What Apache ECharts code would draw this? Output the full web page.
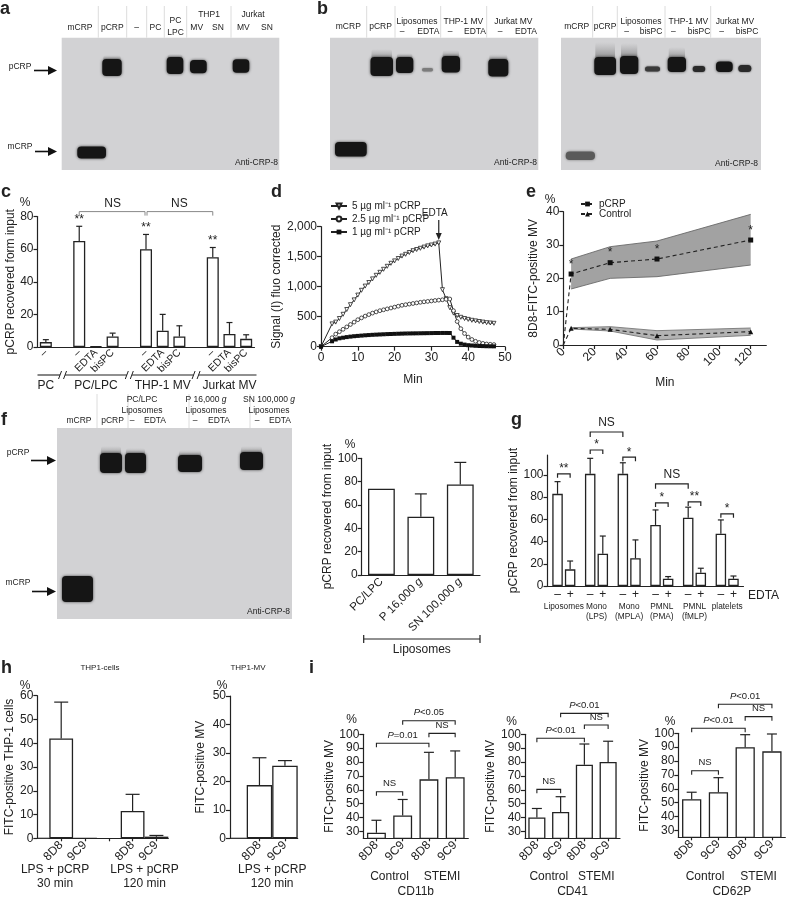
<!DOCTYPE html>
<html><head><meta charset="utf-8">
<script src="https://cdn.jsdelivr.net/npm/echarts@6.0.0/dist/echarts.min.js"></script>
<style>html,body{margin:0;padding:0;background:#fff;}#main{width:788px;height:900px;}</style>
</head><body><div id="main"></div>
<script>
// ================= DATA =================
// Panel c
const cCategories = ['–','','–','EDTA','bisPC','','–','EDTA','bisPC','','–','EDTA','bisPC'];
const cValues = [3,null,65,0.4,6.5,null,60,10,6.5,null,55,8,5];
const cErrors = [4.5,null,74,null,8.5,null,69,20,13,null,61,15,7.5];
const cStars = ['','','**','','','','**','','','','**','',''];
const cGroups = ['PC','PC/LPC','THP-1 MV','Jurkat MV'];
// Panel d
const dMinutes = [0,3,4,5,6,7,8,9,10,11,12,13,14,15,16,17,18,19,20,21,22,23,24,25,26,27,28,29,30,31,32,33,34,35,36,37,38,39,40,41,42,43,44,45,46,47];
const dPcrp5 = [0,380,410,470,540,620,700,780,860,940,1010,1070,1130,1190,1240,1290,1340,1390,1430,1470,1510,1540,1570,1600,1620,1640,1660,1680,1695,1710,1730,950,800,650,560,520,490,470,455,440,430,420,410,400,395,390];
const dPcrp25 = [0,150,210,250,290,330,370,410,450,480,510,535,560,580,600,615,630,645,660,675,690,700,710,720,730,740,748,755,762,770,776,782,790,795,600,420,300,220,160,120,90,70,55,45,40,35];
const dPcrp1 = [0,90,120,140,150,160,168,175,180,185,190,194,198,201,204,207,210,212,214,216,218,220,221,222,223,224,225,226,227,228,228,229,229,228,150,80,50,35,25,20,15,12,10,8,7,6];
const dNames = ['5 µg ml⁻¹ pCRP','2.5 µg ml⁻¹ pCRP','1 µg ml⁻¹ pCRP'];
// Panel e
const eMinutes = [0,5,30,60,120];
const ePcrp = [0,21.3,24.7,25.8,31.5];
const eControl = [0,5,4.7,2.8,4];
const ePcrpStars = ['','*','*','*','*'];
const eBandMinutes = [5,30,60,120];
const ePcrpLow = [16.8,20,20.5,24];
const ePcrpHigh = [25.8,29.5,31.2,39.2];
const eCtrlLow = [4.8,4.2,1.5,2.9];
const eCtrlHigh = [5.2,5.5,4.3,5.1];
const eXTicks = [0,20,40,60,80,100,120];
// Panel f
const fCategories = ['PC/LPC','P 16,000 g','SN 100,000 g'];
const fValues = [74,50,77.5];
const fErrors = [null,69.5,96.5];
// Panel g
const gCategories = ['Liposomes','Mono\n(LPS)','Mono\n(MPLA)','PMNL\n(PMA)','PMNL\n(fMLP)','platelets'];
const gMinus = [83,101,101,55,61.5,47];
const gMinusErr = [94,115,111,68.5,71,59.5];
const gPlus = [15,29,25,6.5,12,6.5];
const gPlusErr = [22.5,45,41.5,8.5,16,9];
const gYTicks = [0,20,40,60,80,100];
// Panel h
const h1Categories = ['8D8','9C9','','8D8','9C9'];
const h1Values = [42,0,null,11.5,0.7];
const h1Errors = [57.3,null,null,18.5,1.2];
const h2Categories = ['8D8','9C9'];
const h2Values = [18.7,25.5];
const h2Errors = [28.3,27.3];
// Panel i
const iCategories = ['8D8','9C9','8D8','9C9'];
const iCD11b = [29,41.5,67.5,69];
const iCD11bErr = [38,53,87,88];
const iCD41 = [40,44,78,80];
const iCD41Err = [46.5,55,93,95];
const iCD62P = [52.5,57.5,90,87];
const iCD62PErr = [57.5,68,99,99.5];
const iYTicks = [30,40,50,60,70,80,90,100];

// ================= HELPERS =================
const F = 'Liberation Sans, Arial, Helvetica, sans-serif';
const INK = '#222';
function merge(a, b){ if(!b) return a; for (const k in b){ const v=b[k]; if (v && typeof v==='object' && !Array.isArray(v) && a[k] && typeof a[k]==='object' && !Array.isArray(a[k])) merge(a[k], v); else a[k]=v; } return a; }
function axLine(){ return {show:true, lineStyle:{color:INK, width:1.2}}; }
function yAx(g, o){
  return merge({type:'value', gridIndex:g, axisLine:axLine(), axisTick:{show:true, length:4, lineStyle:{color:INK, width:1.2}},
    axisLabel:{color:INK, fontSize:12, fontFamily:F, margin:4}, splitLine:{show:false},
    nameLocation:'middle', nameRotate:90, nameTextStyle:{color:INK, fontSize:12, fontFamily:F}}, o);
}
function xCat(g, data, o){
  return merge({type:'category', gridIndex:g, data, axisLine:axLine(), axisTick:{show:true, alignWithLabel:true, length:3, lineStyle:{color:INK, width:1.2}},
    axisLabel:{color:INK, fontSize:12, fontFamily:F, interval:0, rotate:45, margin:5}, splitLine:{show:false}}, o);
}
function barS(g, vals, o){
  return merge({type:'bar', xAxisIndex:g, yAxisIndex:g, data:vals, barWidth:'72%', silent:true,
    itemStyle:{color:'#fff', borderColor:INK, borderWidth:1.3}}, o);
}
function errS(g, vals, errs, opt){
  opt = opt || {};
  const data = [];
  vals.forEach((v,i)=>{ if (v==null) return; const e = errs ? errs[i] : null; const s = opt.stars ? opt.stars[i] : '';
    if (e==null && !s) return; data.push([i, v, e==null ? v : e, s]); });
  return {type:'custom', xAxisIndex:g, yAxisIndex:g, data:data.map(d=>[d[0],d[1],d[2]]), z:5, silent:true,
    encode:{x:0, y:[1,2]},
    renderItem:(params, api)=>{
      const i=api.value(0), v=api.value(1), e=api.value(2); const s=data[params.dataIndex][3];
      const p1=api.coord([i,v]), p2=api.coord([i,e]); const cx=p1[0]+(opt.offset||0); const cw=opt.cap||6;
      const ch=[];
      if (e>v){ ch.push({type:'line', shape:{x1:cx,y1:p1[1],x2:cx,y2:p2[1]}, style:{stroke:INK,lineWidth:1.2}});
        ch.push({type:'line', shape:{x1:cx-cw/2,y1:p2[1],x2:cx+cw/2,y2:p2[1]}, style:{stroke:INK,lineWidth:1.2}}); }
      if (s) ch.push({type:'text', x:cx, y:p2[1]-1, style:{text:s, fill:INK, fontSize:12, fontFamily:F, align:'center', verticalAlign:'bottom', textAlign:'center', textVerticalAlign:'bottom'}});
      return {type:'group', children:ch};
    }};
}
// shaded confidence band between two series, drawn as one polygon through the axes
function bandS(g, xs, lo, hi, fill, stroke){
  return {type:'custom', xAxisIndex:g, yAxisIndex:g, silent:true, z:1,
    data:xs.map((x,i)=>[x, lo[i], hi[i]]), encode:{x:0, y:[1,2]},
    renderItem:(params, api)=>{
      if (params.dataIndex!==0) return null;
      const up = xs.map((x,i)=>api.coord([x,hi[i]]));
      const dn = xs.map((x,i)=>api.coord([x,lo[i]]));
      return {type:'group', children:[
        {type:'polygon', shape:{points:up.concat(dn.slice().reverse())}, style:{fill, stroke:null}},
        {type:'polyline', shape:{points:up}, style:{stroke, fill:null, lineWidth:0.9}},
        {type:'polyline', shape:{points:dn}, style:{stroke, fill:null, lineWidth:0.9}}
      ]};
    }};
}
const zip = (xs, ys) => xs.map((x,i)=>[x, ys[i]]);

// ================= CHART =================
const chart = echarts.init(document.getElementById('main'), null, {renderer:'canvas', width:788, height:900});
const grids = [
  {left:37.5, top:216.5, width:217, height:130.5},   // 0 c
  {left:321, top:226.7, width:184, height:120},      // 1 d
  {left:563.3, top:211.7, width:203, height:133.3},  // 2 e
  {left:361.7, top:458.3, width:118.3, height:116.7},// 3 f
  {left:547.5, top:455, width:196, height:131},      // 4 g
  {left:49.3, top:695.7, width:119, height:142.6},   // 5 h1
  {left:246.7, top:696, width:51, height:142.3},     // 6 h2
  {left:363.3, top:734.3, width:105, height:104},    // 7 i CD11b
  {left:525, top:734.3, width:95, height:104},       // 8 i CD41
  {left:678.3, top:733.3, width:107, height:104}     // 9 i CD62P
];
const thou = v => v>=1000 ? Math.floor(v/1000)+','+String(v%1000).padStart(3,'0') : String(v);

const option = {
  animation:false,
  textStyle:{fontFamily:F},
  grid: grids.map(g=>Object.assign({containLabel:false}, g)),
  legend:[
    {left:325, top:196, orient:'vertical', itemWidth:16, itemHeight:6, itemGap:3, selectedMode:false,
     textStyle:{fontSize:10, fontFamily:F, color:INK}, data:dNames},
    {left:575, top:194, orient:'vertical', itemWidth:13, itemHeight:6, itemGap:0, selectedMode:false,
     textStyle:{fontSize:10, fontFamily:F, color:INK}, data:['pCRP','Control']}
  ],
  xAxis:[
    xCat(0, cCategories, {axisTick:{show:false}, axisLabel:{fontSize:10.5, margin:4}}),
    {type:'value', gridIndex:1, min:0, max:50, interval:10, axisLine:axLine(), axisTick:{length:4, lineStyle:{color:INK,width:1.2}},
     axisLabel:{color:INK, fontSize:12, fontFamily:F, margin:5}, splitLine:{show:false},
     name:'Min', nameLocation:'middle', nameGap:27, nameTextStyle:{color:INK, fontSize:12, fontFamily:F}},
    {type:'value', gridIndex:2, min:0, max:130, axisLine:axLine(), axisTick:{length:4, customValues:eXTicks, lineStyle:{color:INK,width:1.2}},
     axisLabel:{color:INK, fontSize:12, fontFamily:F, margin:5, rotate:45, customValues:eXTicks}, splitLine:{show:false},
     name:'Min', nameLocation:'middle', nameGap:32, nameTextStyle:{color:INK, fontSize:12, fontFamily:F}},
    xCat(3, fCategories, {axisTick:{show:false}, axisLabel:{fontSize:11.5,
      formatter:v=>v.replace(/ g$/, ' {i|g}'), rich:{i:{fontStyle:'italic', fontSize:11.5, fontFamily:F, color:INK}}}}),
    xCat(4, gCategories, {axisTick:{show:false}, axisLabel:{rotate:0, fontSize:8.3, margin:16, lineHeight:10}}),
    xCat(5, h1Categories),
    xCat(6, h2Categories),
    xCat(7, iCategories),
    xCat(8, iCategories),
    xCat(9, iCategories)
  ],
  yAxis:[
    yAx(0, {min:0, max:80, interval:20, name:'pCRP recovered form input', nameGap:20}),
    yAx(1, {min:0, max:2000, interval:500, name:'Signal (I) fluo corrected', nameGap:36, axisLabel:{formatter:thou}}),
    yAx(2, {min:0, max:40, interval:10, name:'8D8-FITC-positive MV', nameGap:24}),
    yAx(3, {min:0, max:100, interval:20, name:'pCRP recovered from input', nameGap:25}),
    yAx(4, {min:0, max:118, name:'pCRP recovered from input', nameGap:27, axisLabel:{customValues:gYTicks}, axisTick:{customValues:gYTicks}}),
    yAx(5, {min:0, max:60, interval:10, offset:12, name:'FITC-positive THP-1 cells', nameGap:21}),
    yAx(6, {min:0, max:50, interval:10, offset:16.7, name:'FITC-positive MV', nameGap:23}),
    yAx(7, {min:25, max:100, name:'FITC-positive MV', nameGap:21, axisLabel:{customValues:iYTicks}, axisTick:{customValues:iYTicks}}),
    yAx(8, {min:25, max:100, name:'FITC-positive MV', nameGap:25, axisLabel:{customValues:iYTicks}, axisTick:{customValues:iYTicks}}),
    yAx(9, {min:25, max:100, name:'FITC-positive MV', nameGap:21, axisLabel:{customValues:iYTicks}, axisTick:{customValues:iYTicks}})
  ],
  series:[
    // c
    barS(0, cValues),
    errS(0, cValues, cErrors, {stars:cStars, cap:6}),
    // d
    {type:'line', name:dNames[0], xAxisIndex:1, yAxisIndex:1, data:zip(dMinutes,dPcrp5), symbol:'triangle', symbolRotate:180, symbolSize:4,
     lineStyle:{color:INK, width:1}, itemStyle:{color:'#fff', borderColor:INK, borderWidth:0.8}},
    {type:'line', name:dNames[1], xAxisIndex:1, yAxisIndex:1, data:zip(dMinutes,dPcrp25), symbol:'circle', symbolSize:3.8,
     lineStyle:{color:INK, width:1}, itemStyle:{color:'#fff', borderColor:INK, borderWidth:0.8}},
    {type:'line', name:dNames[2], xAxisIndex:1, yAxisIndex:1, data:zip(dMinutes,dPcrp1), symbol:'rect', symbolSize:4,
     lineStyle:{color:INK, width:1}, itemStyle:{color:'#111'}},
    // e bands
    bandS(2, eBandMinutes, ePcrpLow, ePcrpHigh, '#a2a2a2', '#6a6a6a'),
    bandS(2, eBandMinutes, eCtrlLow, eCtrlHigh, '#b3b3b3', '#777'),
    {type:'line', name:'pCRP', xAxisIndex:2, yAxisIndex:2, z:4, data:zip(eMinutes,ePcrp), symbol:'rect', symbolSize:(v,p)=>p.dataIndex===0?0:5,
     lineStyle:{color:INK, width:1.1, type:[4,3]}, itemStyle:{color:'#111'},
     label:{show:true, position:'top', distance:1, formatter:p=>ePcrpStars[p.dataIndex], fontSize:12, color:INK, fontFamily:F}},
    {type:'line', name:'Control', xAxisIndex:2, yAxisIndex:2, z:4, data:zip(eMinutes,eControl), symbol:'triangle', symbolSize:(v,p)=>p.dataIndex===0?0:5,
     lineStyle:{color:INK, width:1.1, type:[4,3]}, itemStyle:{color:'#111'}},
    // f
    barS(3, fValues, {barWidth:'68%'}),
    errS(3, fValues, fErrors, {cap:12}),
    // g
    barS(4, gMinus, {barWidth:10.5, barGap:'20%', label:{show:true, position:'bottom', distance:3, formatter:'–', fontSize:12, color:INK, fontFamily:F}}),
    barS(4, gPlus, {barWidth:10.5, barGap:'20%', label:{show:true, position:'bottom', distance:3, formatter:'+', fontSize:12, color:INK, fontFamily:F}}),
    errS(4, gMinus, gMinusErr, {offset:-6.3, cap:6}),
    errS(4, gPlus, gPlusErr, {offset:6.3, cap:6}),
    // h
    barS(5, h1Values, {barWidth:'100%'}),
    errS(5, h1Values, h1Errors, {cap:14, offset:0}),
    barS(6, h2Values, {barWidth:'100%'}),
    errS(6, h2Values, h2Errors, {cap:14}),
    // i
    barS(7, iCD11b), errS(7, iCD11b, iCD11bErr, {cap:10}),
    barS(8, iCD41), errS(8, iCD41, iCD41Err, {cap:10}),
    barS(9, iCD62P), errS(9, iCD62P, iCD62PErr, {cap:10})
  ]
};
chart.setOption(option);

// ================= ANNOTATIONS =================
const G = [];
function T(x,y,s,o){ const st = Object.assign({text:s, fill:INK, fontSize:11, fontFamily:F, align:'center', verticalAlign:'middle'}, o||{});
  st.textAlign = st.align; st.textVerticalAlign = st.verticalAlign; G.push({type:'text', x, y, silent:true, z:20, style:st}); }
function L(x1,y1,x2,y2,o){ G.push({type:'line', silent:true, z:20, shape:{x1,y1,x2,y2}, style:Object.assign({stroke:INK, lineWidth:1}, o||{})}); }
function PL(pts,o){ G.push({type:'polyline', silent:true, z:20, shape:{points:pts}, style:Object.assign({stroke:INK, lineWidth:1, fill:null}, o||{})}); }
function RECT(x,y,w,h,fill,o){ G.push({type:'rect', silent:true, z:1, shape:{x,y,width:w,height:h,r:(o&&o.r)||0}, style:Object.assign({fill}, (o&&o.style)||{})}); }
const px = (g, x, y) => chart.convertToPixel({gridIndex:g}, [x, y]);
function bracket(x1,x2,y,drop,o){ PL([[x1,y+drop],[x1,y],[x2,y],[x2,y+drop]], o); }
function arrowR(x1,x2,y){ L(x1,y,x2-7,y,{lineWidth:1.6, stroke:'#111'}); G.push({type:'polygon', silent:true, z:20, shape:{points:[[x2,y],[x2-9,y-4.5],[x2-9,y+4.5]]}, style:{fill:'#111'}}); }
function band(x,y,w,h,o){
  o = o || {};
  if (o.smear) G.push({type:'rect', silent:true, z:2, shape:{x:x+1,y:y-o.smear,width:w-2,height:o.smear+3,r:3},
    style:{fill:new echarts.graphic.LinearGradient(0,0,0,1,[{offset:0,color:'rgba(120,120,120,0)'},{offset:1,color:'rgba(70,70,70,0.55)'}])}});
  G.push({type:'rect', silent:true, z:3, shape:{x,y,width:w,height:h,r:Math.min(4,h/2)},
    style:{fill:o.fill||'#151515', shadowBlur:o.blur==null?3:o.blur, shadowColor:o.shadow||'rgba(0,0,0,0.7)'}});
}
const BLOT = '#d2d2d4', SEP = '#dcdcdc';
const hdr = {fontSize:8.5};

// panel letters
const LET = {fontSize:18, fontWeight:'bold', align:'left'};
T(0,9,'a',LET); T(317,9,'b',LET); T(1,192,'c',LET); T(271,192,'d',LET); T(526,192,'e',LET);
T(1,420,'f',LET); T(511,420,'g',LET); T(1,668,'h',LET); T(309,668,'i',LET);

// ---- blot a ----
RECT(61.7,37.7,217.6,132.3,BLOT);
[98.3,126.7,146.7,164.3,186.7,231].forEach(x=>L(x,6,x,37.7,{stroke:SEP}));
T(80,27.5,'mCRP',hdr); T(112.3,27.5,'pCRP',hdr); T(136.7,27.5,'–',hdr); T(155.5,27.5,'PC',hdr);
T(175.5,20.5,'PC',hdr); T(175.5,32.5,'LPC',hdr); T(209,14.5,'THP1',hdr); T(196.7,27.5,'MV',hdr); T(218,27.5,'SN',hdr);
T(253,14.5,'Jurkat',hdr); T(243.3,27.5,'MV',hdr); T(267,27.5,'SN',hdr);
band(102.3,59,19.4,17,{smear:4}); band(166.7,57,16.6,17,{smear:3}); band(190,60,16.7,13.3); band(232.7,59.3,16.6,13.4);
band(77.3,146.5,28.7,12);
T(20,66.5,'pCRP',hdr); arrowR(34,57,70.5);
T(20,146.5,'mCRP',hdr); arrowR(35,57,151.5);
T(278,163,'Anti-CRP-8',{fontSize:8.5, align:'right'});

// ---- blot b1 ----
RECT(330,37.7,208.3,132.3,BLOT);
[366.7,395,440.7,486.7].forEach(x=>L(x,6,x,37.7,{stroke:SEP}));
T(348.3,26.7,'mCRP',hdr); T(380.5,26.7,'pCRP',hdr);
T(417,21.5,'Liposomes',hdr); T(402,32,'–',hdr); T(428.3,32,'EDTA',hdr);
T(463.3,21.5,'THP-1 MV',hdr); T(450,32,'–',hdr); T(475,32,'EDTA',hdr);
T(513.3,21.5,'Jurkat MV',hdr); T(500,32,'–',hdr); T(526,32,'EDTA',hdr);
band(335,142,31.7,14.5); band(370.5,57,22.5,19,{smear:8}); band(396,57,17.3,16,{smear:4});
band(422,68,11,3.5,{fill:'#7c7c7c', blur:2, shadow:'rgba(80,80,80,0.6)'});
band(441.7,56,18.3,16.5,{smear:6}); band(488.3,59,20,17.5,{smear:5});
T(537,163,'Anti-CRP-8',{fontSize:8.5, align:'right'});

// ---- blot b2 ----
RECT(561,37.7,200,132.3,BLOT);
[592.7,617.3,665,710.7].forEach(x=>L(x,6,x,37.7,{stroke:SEP}));
T(576.7,26.7,'mCRP',hdr); T(605,26.7,'pCRP',hdr);
T(641,21.5,'Liposomes',hdr); T(626.7,32,'–',hdr); T(651,32,'bisPC',hdr);
T(688.3,21.5,'THP-1 MV',hdr); T(673.3,32,'–',hdr); T(699,32,'bisPC',hdr);
T(735,21.5,'Jurkat MV',hdr); T(721.7,32,'–',hdr); T(747,32,'bisPC',hdr);
band(594.3,57,21.7,18,{smear:15}); band(620,56,18.3,18,{smear:13});
band(645,66.5,15,5,{fill:'#3a3a3a', blur:2});
band(667.7,57,18.3,15,{smear:10}); band(692.7,66,12.5,6,{fill:'#2a2a2a', blur:2});
band(716,61.5,16.7,10.5); band(738.3,65,13,7,{fill:'#2a2a2a', blur:2});
band(565.7,151.5,29.3,8.5,{fill:'#5a5a5a', blur:3, shadow:'rgba(60,60,60,0.6)'});
T(758,164,'Anti-CRP-8',{fontSize:8.5, align:'right'});

// ---- blot f ----
RECT(57,428,235,191,BLOT);
[97,128,189,250].forEach(x=>L(x,394,x,428,{stroke:SEP}));
T(79,421,'mCRP',hdr); T(112.5,421,'pCRP',hdr);
const rI = {i:{fontStyle:'italic', fontSize:8.5, fontFamily:F}};
T(142,400,'PC/LPC',hdr); T(142,410.5,'Liposomes',hdr); T(132,421,'–',hdr); T(155,421,'EDTA',hdr);
T(206,400,'P 16,000 {i|g}',Object.assign({rich:rI},hdr)); T(206,410.5,'Liposomes',hdr); T(195,421,'–',hdr); T(219,421,'EDTA',hdr);
T(269,400,'SN 100,000 {i|g}',Object.assign({rich:rI},hdr)); T(269,410.5,'Liposomes',hdr); T(257,421,'–',hdr); T(280,421,'EDTA',hdr);
band(100,453,22,20,{smear:7}); band(125,453,21,20,{smear:5}); band(178,455,24,17,{smear:5}); band(240,452,23,18,{smear:6});
band(62,576,31,26);
T(18,452.5,'pCRP',hdr); arrowR(31,56,460.5);
T(18,583,'mCRP',hdr); arrowR(32,56,591.5);
T(290,612,'Anti-CRP-8',{fontSize:8.5, align:'right'});

// ---- c annotations ----
(function(){
  T(25,203,'%',{fontSize:12});
  const x2 = px(0,2,83)[0], x6 = px(0,6,83)[0], x10 = px(0,10,83)[0], yb = px(0,2,83)[1];
  bracket(x2, x6-1, yb, 4, {stroke:'#888'}); bracket(x6+1, x10, yb, 4, {stroke:'#888'});
  T((x2+x6)/2, yb-8, 'NS', {fontSize:12}); T((x6+x10)/2, yb-8, 'NS', {fontSize:12});
  const gy = 375; const left = grids[0].left, right = grids[0].left + grids[0].width + 2;
  const br = [1,5,9].map(i=>px(0,i,0)[0]);
  const pts = [left, ...br.flatMap(b=>[b-2.5,b+2.5]), right];
  for (let k=0;k<pts.length;k+=2) L(pts[k],gy,pts[k+1],gy,{lineWidth:1.1});
  br.forEach(b=>{ L(b-4,gy+4,b-1,gy-4,{lineWidth:1}); L(b+1,gy+4,b+4,gy-4,{lineWidth:1}); });
  [0,3,7,11].forEach((i,k)=>T(px(0,i,0)[0], 386, cGroups[k], {fontSize:12}));
})();

// ---- d annotations ----
(function(){
  const p = px(1,32,1730);
  T(p[0]-4, p[1]-30, 'EDTA', {fontSize:10});
  L(p[0], p[1]-23, p[0], p[1]-9, {lineWidth:1.2});
  G.push({type:'polygon', silent:true, z:20, shape:{points:[[p[0],p[1]-3],[p[0]-3,p[1]-10],[p[0]+3,p[1]-10]]}, style:{fill:INK}});
})();

// ---- e annotations ----
T(550,200,'%',{fontSize:12});

// ---- f annotations ----
(function(){
  T(350,445,'%',{fontSize:12});
  const l = grids[3].left+2, r = grids[3].left+grids[3].width;
  L(l,639,r,639,{lineWidth:1.2}); L(l,635,l,643,{lineWidth:1.2}); L(r,635,r,643,{lineWidth:1.2});
  T((l+r)/2, 650, 'Liposomes', {fontSize:12});
})();

// ---- g annotations ----
(function(){
  const off = 6.3;
  const xm = i => px(4,i,0)[0]-off, xp = i => px(4,i,0)[0]+off, yv = v => px(4,0,v)[1];
  const pair = (i, v, s) => { const y=yv(v); bracket(xm(i), xp(i), y, 4, {lineWidth:1.2}); T((xm(i)+xp(i))/2, y-5, s, {fontSize:12}); };
  pair(0,101,'**'); pair(1,122.5,'*'); pair(2,116,'*'); pair(3,74.8,'*'); pair(4,75.7,'**'); pair(5,65,'*');
  let y = yv(138.7); bracket(xm(1), xm(2), y, 5, {lineWidth:1.2}); T((xm(1)+xm(2))/2, y-9, 'NS', {fontSize:12});
  y = yv(92); bracket(xm(3), xm(4), y, 5, {lineWidth:1.2}); T((xm(3)+xm(4))/2, y-9, 'NS', {fontSize:12});
  T(748, 596, 'EDTA', {fontSize:12, align:'left'});
})();

// ---- h annotations ----
(function(){
  T(100,668,'THP1-cells',{fontSize:8}); T(248,668,'THP1-MV',{fontSize:8});
  T(25,686,'%',{fontSize:12}); T(222,686,'%',{fontSize:12});
  L(grids[5].left-12, px(5,0,0)[1], grids[5].left, px(5,0,0)[1], {lineWidth:1.2});
  L(grids[6].left-16.7, px(6,0,0)[1], grids[6].left, px(6,0,0)[1], {lineWidth:1.2});
  const c1 = (px(5,0,0)[0]+px(5,1,0)[0])/2 - 18, c2 = (px(5,3,0)[0]+px(5,4,0)[0])/2, c3 = (px(6,0,0)[0]+px(6,1,0)[0])/2;
  const lbl = {fontSize:12, verticalAlign:'top', lineHeight:14};
  T(c1, 863, 'LPS + pCRP\n30 min', lbl); T(c2, 863, 'LPS + pCRP\n120 min', lbl); T(c3, 863, 'LPS + pCRP\n120 min', lbl);
})();

// ---- i annotations ----
(function(){
  const rP = {i:{fontStyle:'italic', fontSize:9.5, fontFamily:F}};
  const sets = [
    {g:7, name:'CD11b', pct:[351.7,720], br:[[0,1,58.6,'NS'],[0,2,93.5,'{i|P}=0.01'],[2,3,100.7,'NS'],[1,3,109.8,'{i|P}<0.05']]},
    {g:8, name:'CD41', pct:[511.7,722], br:[[0,1,60.3,'NS'],[0,2,97.1,'{i|P}<0.01'],[2,3,106.7,'NS'],[1,3,115.1,'{i|P}<0.01']]},
    {g:9, name:'CD62P', pct:[670,722], br:[[0,1,73,'NS'],[0,2,103.6,'{i|P}<0.01'],[2,3,112,'NS'],[1,3,120.9,'{i|P}<0.01']]}
  ];
  sets.forEach(s=>{
    T(s.pct[0], s.pct[1], '%', {fontSize:12});
    s.br.forEach(b=>{ const a = px(s.g,b[0],b[2]), c = px(s.g,b[1],b[2]);
      bracket(a[0], c[0], a[1], 4, {lineWidth:1.1}); T((a[0]+c[0])/2, a[1]-8, b[3], {fontSize:9.5, rich:rP}); });
    const x0 = (px(s.g,0,30)[0]+px(s.g,1,30)[0])/2, x1 = (px(s.g,2,30)[0]+px(s.g,3,30)[0])/2;
    T(x0, 877, 'Control', {fontSize:12}); T(x1, 877, 'STEMI', {fontSize:12});
    T((x0+x1)/2, 892, s.name, {fontSize:12});
  });
})();

chart.setOption({graphic:{elements:G}});
</script></body></html>
